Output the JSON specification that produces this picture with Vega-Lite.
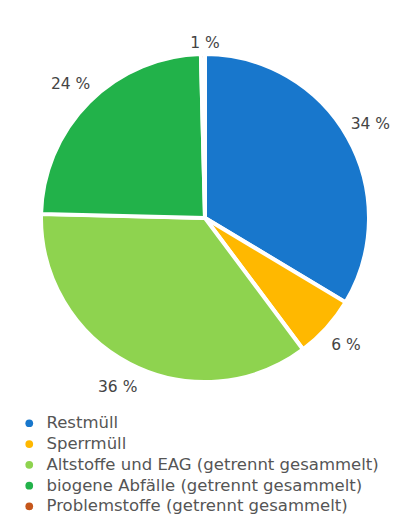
{
  "$schema": "https://vega.github.io/schema/vega-lite/v6.json",
  "autosize": "none",
  "width": 398,
  "height": 414,
  "padding": {"left": 6, "top": 11, "right": 1, "bottom": 100},
  "background": "white",
  "config": {"view": {"stroke": null}, "font": "DejaVu Sans"},
  "data": {
    "values": [
      {"nr": 1, "Kategorie": "Restmüll", "Anteil": 33.6, "Label": "34 %"},
      {"nr": 2, "Kategorie": "Sperrmüll", "Anteil": 6.2, "Label": "6 %"},
      {"nr": 3, "Kategorie": "Altstoffe und EAG (getrennt gesammelt)", "Anteil": 35.6, "Label": "36 %"},
      {"nr": 4, "Kategorie": "biogene Abfälle (getrennt gesammelt)", "Anteil": 24.2, "Label": "24 %"},
      {"nr": 5, "Kategorie": "Problemstoffe (getrennt gesammelt)", "Anteil": 0.4, "Label": "1 %"}
    ]
  },
  "encoding": {
    "theta": {"field": "Anteil", "type": "quantitative", "stack": true},
    "order": {"field": "nr", "type": "quantitative"}
  },
  "layer": [
    {
      "mark": {"type": "arc", "outerRadius": 164, "stroke": "white", "strokeWidth": 4},
      "encoding": {
        "color": {
          "field": "Kategorie",
          "type": "nominal",
          "sort": null,
          "scale": {
            "domain": ["Restmüll", "Sperrmüll", "Altstoffe und EAG (getrennt gesammelt)", "biogene Abfälle (getrennt gesammelt)", "Problemstoffe (getrennt gesammelt)"],
            "range": ["#1877cc", "#ffb800", "#8ed34f", "#22b24a", "#c5561b"]
          },
          "legend": {
            "title": null,
            "orient": "none",
            "legendX": 15,
            "legendY": 404,
            "symbolType": "circle",
            "symbolSize": 60,
            "symbolStrokeWidth": 0,
            "labelFont": "DejaVu Sans",
            "labelFontSize": 16.5,
            "labelColor": "#555555",
            "labelLimit": 400,
            "labelOffset": 9,
            "rowPadding": 3.8,
            "padding": 0
          }
        }
      }
    },
    {
      "mark": {"type": "text", "font": "DejaVu Sans", "fontSize": 15.5, "color": "#444444", "radius": 190},
      "encoding": {
        "text": {"field": "Label", "type": "nominal"},
        "opacity": {"condition": {"test": "datum.Anteil < 1", "value": 0}, "value": 1}
      }
    },
    {
      "transform": [{"filter": "datum.Anteil < 1"}],
      "mark": {"type": "text", "font": "DejaVu Sans", "fontSize": 15.5, "color": "#444444", "radius": 175, "theta": 0},
      "encoding": {
        "theta": null,
        "order": null,
        "text": {"field": "Label", "type": "nominal"}
      }
    }
  ]
}
